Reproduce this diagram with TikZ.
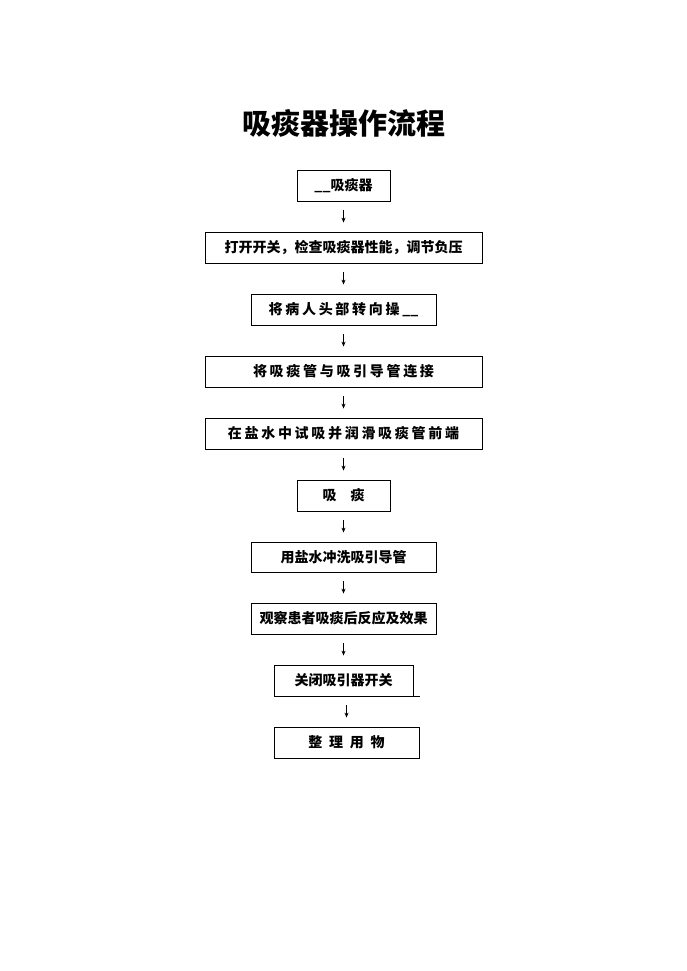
\documentclass[tikz,border=0pt]{standalone}
\usepackage{fontspec}
\newfontfamily\cjk{Noto Sans CJK SC}
\usetikzlibrary{arrows.meta}
\newcommand{\gp}{\hspace{2.7pt}}
\begin{document}
\begin{tikzpicture}
			[x=1pt, y=-1pt,
			every node/.style={rectangle, draw, line width=0.8pt, inner sep=0pt, minimum height=31pt,
				font=\cjk\bfseries\fontsize{14}{16}\selectfont},
			flow/.style={-{Stealth[length=5pt,width=4pt]}, line width=0.8pt, shorten <=9pt, shorten >=9pt}]
			\useasboundingbox (0,0) rectangle (687,971);
			\node[draw=none, minimum height=0pt, font=\cjk\bfseries\fontsize{29}{34}\selectfont] (title) at (344,123) {吸痰器操作流程};
			\node[minimum width=93pt] (start) at (343.5,185.5) {\_\_吸痰器};
			\node[minimum width=277pt] (open) at (343.5,247.5) {打开开关，检查吸痰器性能，调节负压};
			\node[minimum width=185pt] (turn) at (343.5,309.5) {将\gp 病\gp 人\gp 头\gp 部\gp 转\gp 向\gp 操\gp\_\_};
			\node[minimum width=277pt] (connect) at (343.5,371.5) {将\gp 吸\gp 痰\gp 管\gp 与\gp 吸\gp 引\gp 导\gp 管\gp 连\gp 接};
			\node[minimum width=277pt] (test) at (343.5,433.5) {在\gp 盐\gp 水\gp 中\gp 试\gp 吸\gp 并\gp 润\gp 滑\gp 吸\gp 痰\gp 管\gp 前\gp 端};
			\node[minimum width=93pt] (suck) at (343.5,495.5) {吸\hspace{14pt}痰};
			\node[minimum width=185pt, minimum height=30pt] (rinse) at (343.5,557) {用盐水冲洗吸引导管};
			\node[minimum width=185pt] (watch) at (343.5,618.5) {观察患者吸痰后反应及效果};
			\node[minimum width=139pt] (close) at (343.5,680.5) {关闭吸引器开关};
			\node[minimum width=145pt] (tidy) at (346.5,742.5) {整\hspace{6.7pt}理\hspace{6.7pt}用\hspace{6.7pt}物};
			% stray bit of the bottom rule
			\draw[line width=0.8pt] (close.south east) -- ++(7,0);
			% arrows
			\draw[flow] (start.south) -- (open.north);
			\draw[flow] (open.south) -- (turn.north);
			\draw[flow] (turn.south) -- (connect.north);
			\draw[flow] (connect.south) -- (test.north);
			\draw[flow] (test.south) -- (suck.north);
			\draw[flow] (suck.south) -- (rinse.north);
			\draw[flow] (rinse.south) -- (watch.north);
			\draw[flow] (watch.south) -- (close.north);
			\draw[flow] (close.south -| tidy.north) -- (tidy.north);
		\end{tikzpicture}
\end{document}
